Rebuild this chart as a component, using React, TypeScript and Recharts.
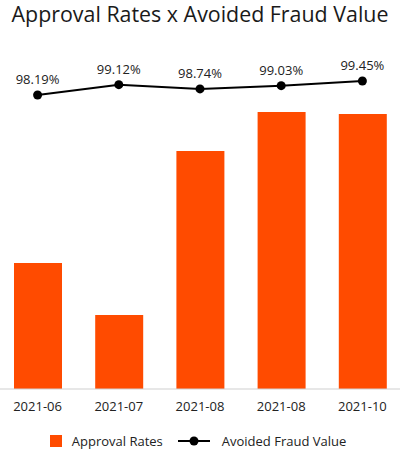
import { ComposedChart, Bar, Line, XAxis, YAxis, LabelList } from "recharts"

const months = ["2021-06", "2021-07", "2021-08", "2021-08", "2021-10"]
const approvalRates = [126, 74, 238, 277, 275]
const avoidedFraud = [98.19, 99.12, 98.74, 99.03, 99.45]

const ORANGE = "#FF4B00"
const FONT = "'Open Sans', sans-serif"

const chartData = months.map((m, i) => ({
  month: m,
  approval: approvalRates[i],
  fraud: avoidedFraud[i],
}))

function LegendRow() {
  return (
    <div
      style={{
        position: "absolute",
        top: 432,
        left: -2,
        width: 400,
        display: "flex",
        justifyContent: "center",
        alignItems: "center",
        fontFamily: FONT,
        fontSize: 13,
        color: "#222",
      }}
    >
      <span style={{ width: 12, height: 12, background: ORANGE, display: "inline-block", marginRight: 10 }} />
      <span>Approval Rates</span>
      <svg width={32} height={12} style={{ margin: "0 12px 0 15px" }}>
        <line x1={0} y1={6} x2={32} y2={6} stroke="#000" strokeWidth={2} />
        <circle cx={16} cy={6} r={4.5} fill="#000" />
      </svg>
      <span>Avoided Fraud Value</span>
    </div>
  )
}

export default function App() {
  return (
    <div style={{ position: "absolute", left: 0, top: 0, width: 400, height: 449, background: "#fff" }}>
      <div
        style={{
          position: "absolute",
          top: 3,
          left: 0,
          width: 400,
          textAlign: "center",
          fontFamily: FONT,
          fontSize: 21.4,
          lineHeight: 1,
          color: "#1a1a1a",
          whiteSpace: "nowrap",
        }}
      >
        Approval Rates x Avoided Fraud Value
      </div>
      <ComposedChart width={400} height={449} data={chartData} margin={{ top: 60, right: 0, bottom: 0, left: 0 }}>
        <XAxis
          dataKey="month"
          height={60}
          padding={{ left: -3, right: -3 }}
          tickLine={false}
          tickSize={0}
          tickMargin={13}
          stroke="#cfcfcf"
          tick={{ fill: "#222", fontSize: 13, fontFamily: FONT }}
        />
        <YAxis yAxisId="bars" hide domain={[0, 329]} />
        <YAxis yAxisId="line" hide orientation="right" domain={[71.73, 101.34]} />
        <Bar yAxisId="bars" dataKey="approval" fill={ORANGE} barSize={48} isAnimationActive={false} />
        <Line
          yAxisId="line"
          dataKey="fraud"
          stroke="#000"
          strokeWidth={2}
          dot={{ r: 4.5, fill: "#000", stroke: "#000", strokeWidth: 0 }}
          isAnimationActive={false}
        >
          <LabelList
            dataKey="fraud"
            position="top"
            offset={11}
            formatter={(v: number) => `${v.toFixed(2)}%`}
            style={{ fill: "#222", fontSize: 13, fontFamily: FONT }}
          />
        </Line>
      </ComposedChart>
      <LegendRow />
    </div>
  )
}
